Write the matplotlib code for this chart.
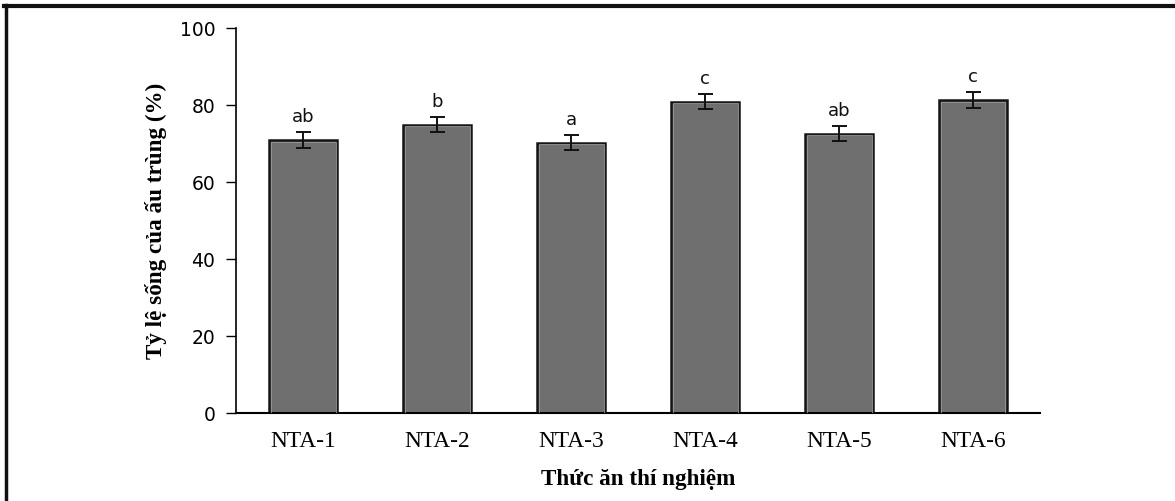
import numpy as np
import matplotlib
matplotlib.use("Agg")
import matplotlib.pyplot as plt
from matplotlib.lines import Line2D

# Datos
tratamientos = ['NTA-1', 'NTA-2', 'NTA-3', 'NTA-4', 'NTA-5', 'NTA-6']
supervivencia = [70.9, 74.9, 70.2, 80.9, 72.6, 81.3]
error_std = [2.0, 2.0, 2.0, 2.0, 2.0, 2.0]
letras = ['ab', 'b', 'a', 'c', 'ab', 'c']
yticks = [0, 20, 40, 60, 80, 100]

fig = plt.figure(figsize=(11.75, 5.01), dpi=100)
ax = fig.add_axes([0.2009, 0.1756, 0.6842, 0.7685])

x = np.arange(len(tratamientos))
ax.bar(x, supervivencia, width=0.51, color='#6f6f6f', edgecolor='#151515', linewidth=1.8, zorder=2)
# borde interior claro de las barras
ax.bar(x, np.array(supervivencia) - 0.45, width=0.485, color='none', edgecolor='#9a9a9a', linewidth=0.6, zorder=3)
ax.errorbar(x, supervivencia, yerr=error_std, fmt='none', ecolor='#111111',
            elinewidth=1.4, capsize=5.4, capthick=1.4, zorder=4)

for xi, v, e, l in zip(x, supervivencia, error_std, letras):
    ax.text(xi, v + e + 1.6, l, ha='center', va='bottom', fontsize=13,
            family='DejaVu Sans', color='#111111')

ax.set_xlim(-0.5, 5.5)
ax.set_ylim(0, 100)
ax.set_yticks(yticks)
ax.set_xticks(x)
ax.set_xticklabels(tratamientos, family='Liberation Serif', fontsize=16.8)
ax.tick_params(axis='x', length=0, pad=13)
ax.tick_params(axis='y', length=7, width=1, direction='out', pad=8, labelsize=13.5)
for lab in ax.get_yticklabels():
    lab.set_family('DejaVu Sans')

ax.spines['top'].set_visible(False)
ax.spines['right'].set_visible(False)
ax.spines['left'].set_linewidth(1.2)
ax.spines['bottom'].set_linewidth(1.5)

ax.set_xlabel('Thức ăn thí nghiệm', family='Liberation Serif', fontweight='bold', fontsize=16.7, labelpad=12)
ax.set_ylabel('Tỷ lệ sống của ấu trùng (%)', family='Liberation Serif', fontweight='bold', fontsize=16.7, labelpad=9)

# marco exterior (solo arriba e izquierda visibles)
fig.add_artist(Line2D([0.003, 1.0], [0.989, 0.989], transform=fig.transFigure, color='#111111', linewidth=3))
fig.add_artist(Line2D([0.0055, 0.0055], [0.0, 0.99], transform=fig.transFigure, color='#111111', linewidth=2.5))

fig.savefig('out.png', dpi=100)
